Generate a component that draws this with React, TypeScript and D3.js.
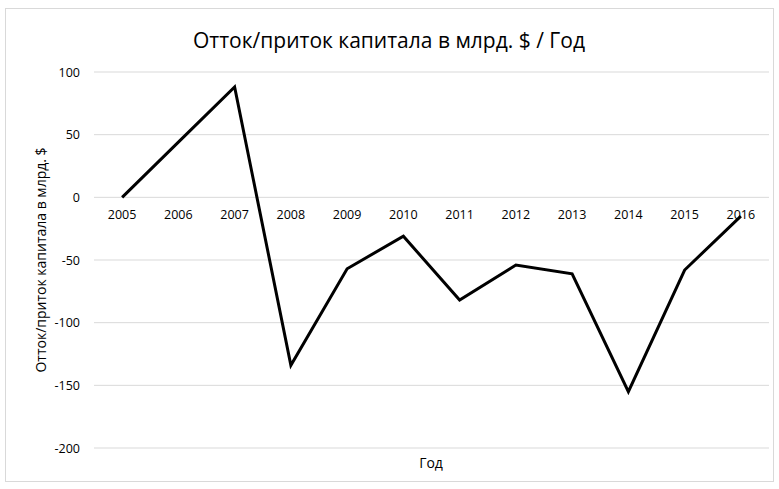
import React from "react";
import * as d3 from "d3";

const years = ["2005", "2006", "2007", "2008", "2009", "2010", "2011", "2012", "2013", "2014", "2015", "2016"];
const flows = [0, 44, 88, -134, -57, -31, -82, -54, -61, -155, -58, -15];
const yTicks = [100, 50, 0, -50, -100, -150, -200];

const W = 779,
  H = 489;
const margin = { top: 72, right: 10, bottom: 41, left: 94 };
const font = "Open Sans, Liberation Sans, sans-serif";

export default function App() {
  const x = d3
    .scaleBand()
    .domain(years)
    .range([margin.left, W - margin.right]);
  const y = d3
    .scaleLinear()
    .domain([-200, 100])
    .range([H - margin.bottom, margin.top]);

  const line = d3
    .line<number>()
    .x((d, i) => x(years[i])! + x.bandwidth() / 2)
    .y((d) => y(d));

  return (
    <svg
      width={W}
      height={H}
      style={{ position: "absolute", left: 0, top: 0, background: "#fff" }}
    >
      <rect x={5.5} y={8.5} width={768} height={473} fill="#fff" stroke="#d9d9d9" />
      <text x={389} y={48} textAnchor="middle" fontFamily={font} fontSize={21} fill="#000">
        Отток/приток капитала в млрд. $ / Год
      </text>
      {yTicks.map((t) => (
        <g key={t}>
          <line x1={margin.left} x2={W - margin.right} y1={y(t)} y2={y(t)} stroke="#d9d9d9" />
          <text x={80} y={y(t) + 4.5} textAnchor="end" fontFamily={font} fontSize={12.5} fill="#000">
            {t}
          </text>
        </g>
      ))}
      {years.map((yr) => (
        <text
          key={yr}
          x={x(yr)! + x.bandwidth() / 2}
          y={y(0) + 22}
          textAnchor="middle"
          fontFamily={font}
          fontSize={12.5}
          fill="#000"
        >
          {yr}
        </text>
      ))}
      <path d={line(flows)!} fill="none" stroke="#000" strokeWidth={3} strokeLinejoin="miter" />
      <text
        transform={`translate(46, ${(margin.top + H - margin.bottom) / 2}) rotate(-90)`}
        textAnchor="middle"
        fontFamily={font}
        fontSize={14}
        fill="#000"
      >
        Отток/приток капитала в млрд. $
      </text>
      <text x={431} y={468} textAnchor="middle" fontFamily={font} fontSize={14} fill="#000">
        Год
      </text>
    </svg>
  );
}
